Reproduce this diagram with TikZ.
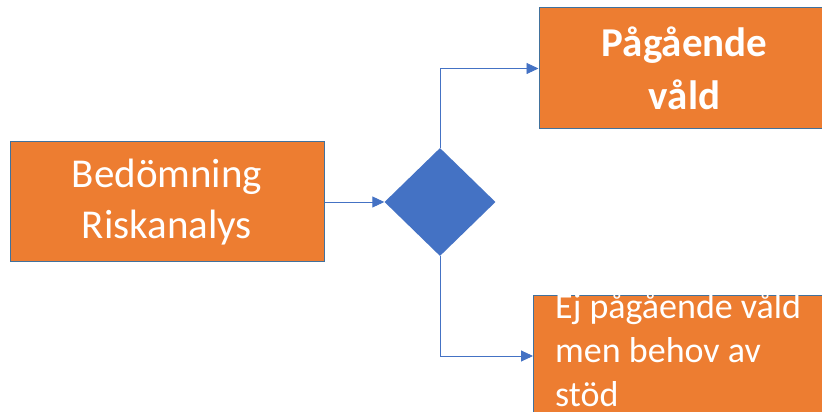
\documentclass[tikz,border=0pt]{standalone}
\usepackage{fontspec}
\setmainfont{Carlito}
\usepackage{tikz}
\usetikzlibrary{arrows.meta,shapes.geometric}
\definecolor{boxorange}{HTML}{ED7D31}
\definecolor{boxline}{HTML}{41719C}
\definecolor{flowblue}{HTML}{4472C4}

\begin{document}
\begin{tikzpicture}[x=1pt, y=1pt,
		orangebox/.style={draw=boxline, line width=1pt, fill=boxorange, text=white, inner sep=0pt},
		flow/.style={draw=flowblue, line width=0.9pt, -{Triangle[length=12pt, width=11pt]}}]
		%%%%% START %%%%%
		\clip (0, 0) rectangle (822, 412);
		
		\node[orangebox, minimum width=314, minimum height=120, align=center,
			font=\fontsize{41}{51}\selectfont] (risk) at (167, 210) {Bedömning\\Riskanalys};
		
		\node[diamond, fill=flowblue, minimum width=111, minimum height=108, inner sep=0pt] (choice) at (440, 210) {};
		
		\node[orangebox, minimum width=291, minimum height=121, align=center,
			font=\bfseries\fontsize{41}{53}\selectfont] (ongoing) at (684.5, 343.5) {Pågående\\våld};
		
		\node[orangebox, minimum width=297, minimum height=121, anchor=north west] (support) at (533, 117) {};
		% base anchor of a multi-line node sits on the last line
		\node[text=white, align=left, inner sep=0pt, anchor=base west,
			font=\fontsize{36}{44}\selectfont] (supporttext) at ([xshift=22pt, yshift=-112pt]support.north west)
			{Ej pågående våld\\men behov av\\stöd};
		
		\draw[flow] (risk.east) -- (choice.west);
		\draw[flow] (choice.north) |- (ongoing.west);
		\draw[flow] (choice.south) |- (support.west);
		%%%%% END %%%%%
\end{tikzpicture}
\end{document}
